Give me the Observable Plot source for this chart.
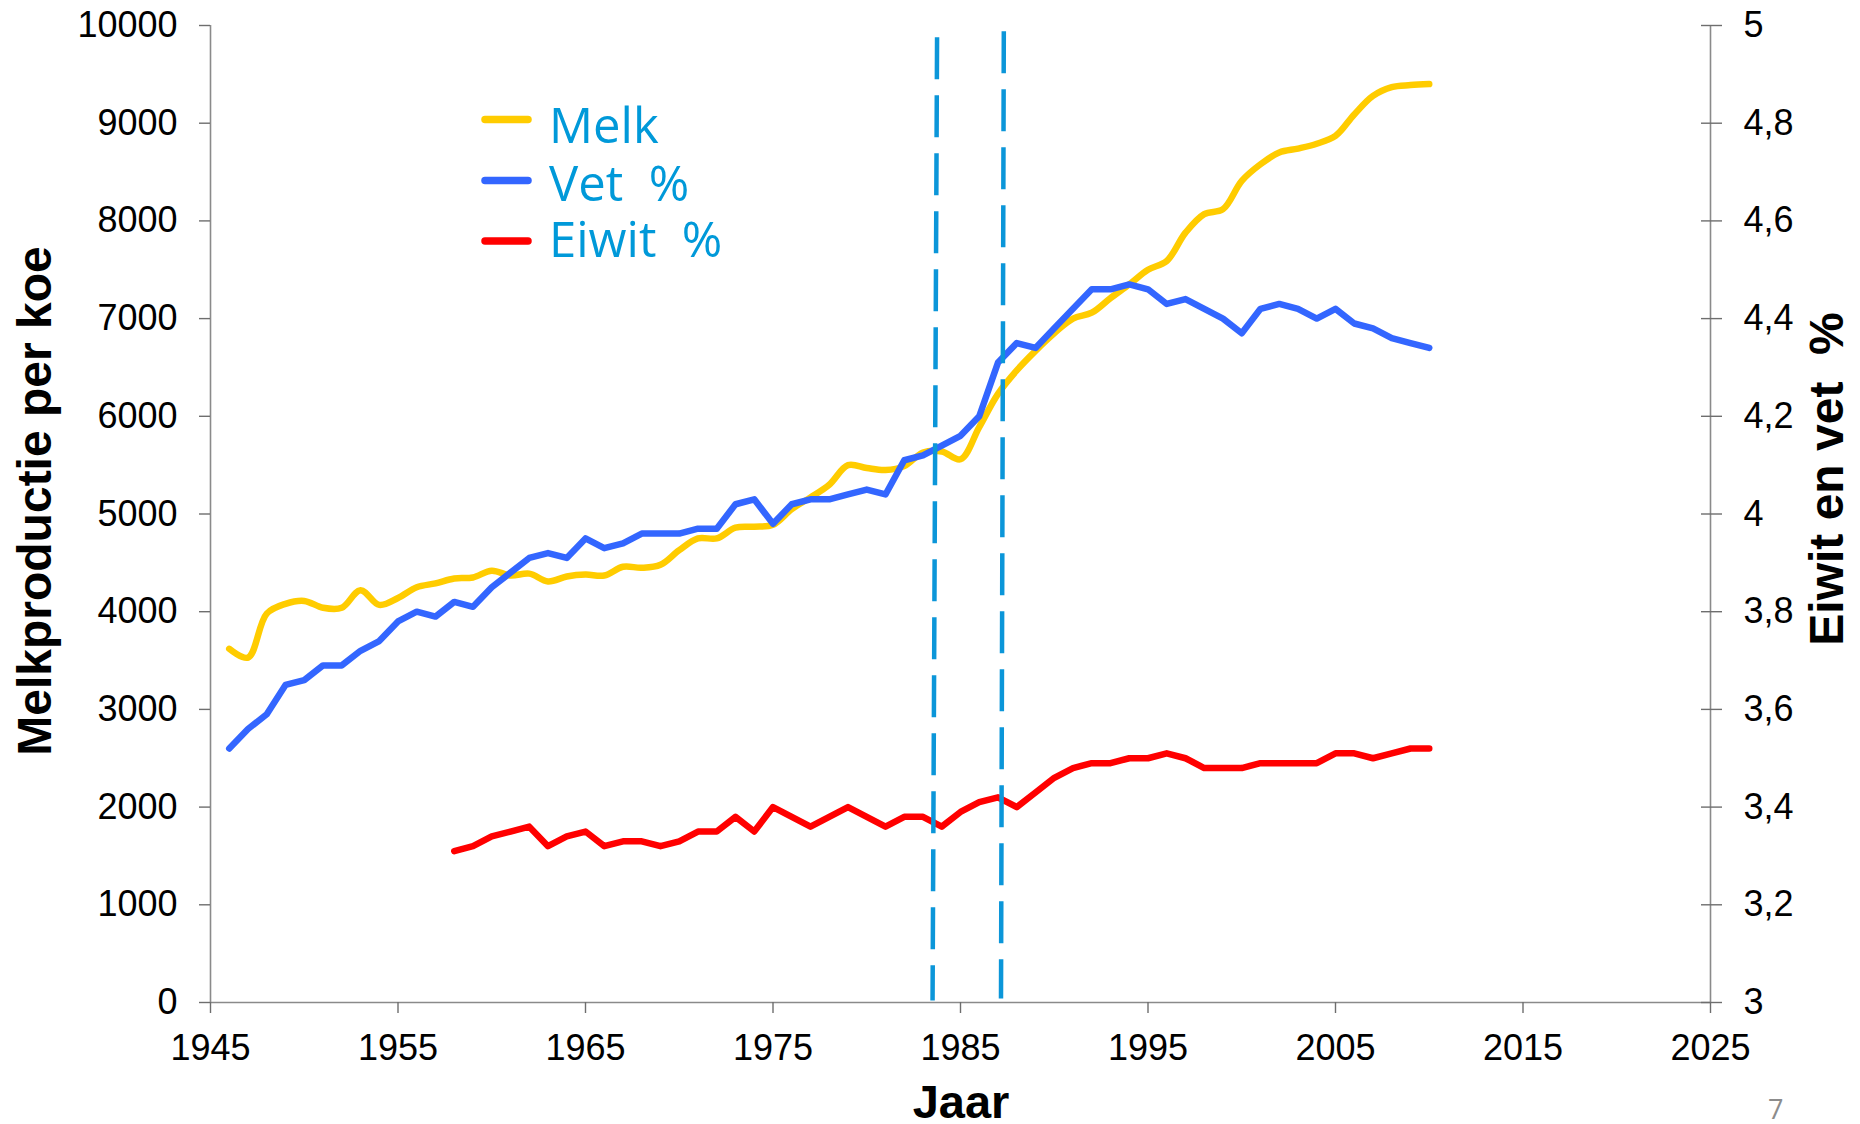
<!DOCTYPE html>
<html>
<head>
<meta charset="utf-8">
<script src="https://cdn.jsdelivr.net/npm/d3@7"></script>
<script src="https://cdn.jsdelivr.net/npm/@observablehq/plot@0.6"></script>
<style>
  html, body { margin: 0; padding: 0; background: #fff; }
  #chart { position: relative; width: 1860px; height: 1124px; overflow: hidden; }
</style>
</head>
<body>
<div id="chart"></div>
<script>
// ---------- DATA ----------
const melkYears = [1946,1947,1948,1949,1950,1951,1952,1953,1954,1955,1956,1957,1958,1959,1960,1961,1962,1963,1964,1965,1966,1967,1968,1969,1970,1971,1972,1973,1974,1975,1976,1977,1978,1979,1980,1981,1982,1983,1984,1985,1986,1987,1988,1989,1990,1991,1992,1993,1994,1995,1996,1997,1998,1999,2000,2001,2002,2003,2004,2005,2006,2007,2008,2009,2010];
const melk = [3620,3530,3980,4080,4110,4040,4040,4220,4070,4140,4250,4290,4340,4350,4420,4370,4390,4310,4360,4380,4370,4460,4450,4480,4630,4750,4750,4860,4870,4890,5050,5170,5300,5500,5470,5450,5490,5630,5640,5560,5890,6230,6470,6670,6850,7000,7060,7210,7350,7500,7590,7880,8070,8120,8410,8580,8700,8740,8790,8870,9090,9280,9370,9390,9400];

const vetYears = [1946,1947,1948,1949,1950,1951,1952,1953,1954,1955,1956,1957,1958,1959,1960,1961,1962,1963,1964,1965,1966,1967,1968,1969,1970,1971,1972,1973,1974,1975,1976,1977,1978,1979,1980,1981,1982,1983,1984,1985,1986,1987,1988,1989,1990,1991,1992,1993,1994,1995,1996,1997,1998,1999,2000,2001,2002,2003,2004,2005,2006,2007,2008,2009,2010];
const vet = [3.52,3.56,3.59,3.65,3.66,3.69,3.69,3.72,3.74,3.78,3.80,3.79,3.82,3.81,3.85,3.88,3.91,3.92,3.91,3.95,3.93,3.94,3.96,3.96,3.96,3.97,3.97,4.02,4.03,3.98,4.02,4.03,4.03,4.04,4.05,4.04,4.11,4.12,4.14,4.16,4.20,4.31,4.35,4.34,4.38,4.42,4.46,4.46,4.47,4.46,4.43,4.44,4.42,4.40,4.37,4.42,4.43,4.42,4.40,4.42,4.39,4.38,4.36,4.35,4.34];

const eiwitYears = [1958,1959,1960,1961,1962,1963,1964,1965,1966,1967,1968,1969,1970,1971,1972,1973,1974,1975,1976,1977,1978,1979,1980,1981,1982,1983,1984,1985,1986,1987,1988,1989,1990,1991,1992,1993,1994,1995,1996,1997,1998,1999,2000,2001,2002,2003,2004,2005,2006,2007,2008,2009,2010];
const eiwit = [3.31,3.32,3.34,3.35,3.36,3.32,3.34,3.35,3.32,3.33,3.33,3.32,3.33,3.35,3.35,3.38,3.35,3.40,3.38,3.36,3.38,3.40,3.38,3.36,3.38,3.38,3.36,3.39,3.41,3.42,3.40,3.43,3.46,3.48,3.49,3.49,3.50,3.50,3.51,3.50,3.48,3.48,3.48,3.49,3.49,3.49,3.49,3.51,3.51,3.50,3.51,3.52,3.52];

// dashed markers (milk quota period), hand drawn slightly tilted
const markerTopYear = [1983.75, 1987.31];
const markerBottomYear = [1983.51, 1987.16];
const markerTopValue = [9880, 9940];
const markerBottomValue = [20, 40];

const xDomain = [1945, 2025];
const xTicks = [1945, 1955, 1965, 1975, 1985, 1995, 2005, 2015, 2025];
const leftTicks = [0, 1000, 2000, 3000, 4000, 5000, 6000, 7000, 8000, 9000, 10000];
const rightTickLabels = ["3", "3,2", "3,4", "3,6", "3,8", "4", "4,2", "4,4", "4,6", "4,8", "5"];
const pctDomain = [3, 5];

const seriesNames = ["Melk", "Vet  %", "Eiwit  %"];
const seriesColors = ["#FFCC00", "#3366FF", "#FF0000"];

// ---------- BUILD ----------
const leftMax = 10000;
const pctToLeft = p => (p - pctDomain[0]) / (pctDomain[1] - pctDomain[0]) * leftMax;

const melkData = melkYears.map((y, i) => ({year: y, value: melk[i]}));
const vetData = vetYears.map((y, i) => ({year: y, value: pctToLeft(vet[i])}));
const eiwitData = eiwitYears.map((y, i) => ({year: y, value: pctToLeft(eiwit[i])}));
const markers = markerTopYear.map((t, i) => ({x1: t, y1: markerTopValue[i], x2: markerBottomYear[i], y2: markerBottomValue[i]}));

const axisGray = "#8a8a8a";
const tickGray = "#6e6e6e";
const dashBlue = "#0b96d9";
const lineW = 6.5;

const chart = Plot.plot({
  width: 1860,
  height: 1124,
  marginLeft: 210,
  marginRight: 150,
  marginTop: 25,
  marginBottom: 122,
  style: {fontFamily: "'Liberation Sans', Arial, sans-serif", fontSize: "36px", color: "#000", background: "#fff", overflow: "visible"},
  x: {domain: xDomain},
  y: {domain: [0, leftMax]},
  marks: [
    Plot.ruleX([xDomain[0], xDomain[1]], {stroke: axisGray, strokeWidth: 1.6}),
    Plot.ruleY([0], {stroke: axisGray, strokeWidth: 1.6}),
    Plot.axisX(xTicks, {anchor: "bottom", tickSize: 11, tickPadding: 21, tickFormat: d => String(d), label: null, stroke: tickGray, fill: "#000", strokeWidth: 1.4}),
    Plot.axisY(leftTicks, {anchor: "left", tickSize: 11, tickPadding: 22, tickFormat: d => String(d), label: null, stroke: tickGray, fill: "#000", strokeWidth: 1.4}),
    Plot.axisY(leftTicks, {anchor: "right", tickSize: 21, dx: -10, label: null, stroke: tickGray, fill: "none", strokeWidth: 1.4}),
    Plot.axisY(leftTicks, {anchor: "right", tickSize: 0, tickPadding: 33, label: null, tickFormat: d => rightTickLabels[leftTicks.indexOf(d)], stroke: "none", fill: "#000"}),
    Plot.line(melkData, {x: "year", y: "value", stroke: seriesColors[0], strokeWidth: lineW, curve: "catmull-rom", strokeLinecap: "round", strokeLinejoin: "round"}),
    Plot.line(vetData, {x: "year", y: "value", stroke: seriesColors[1], strokeWidth: lineW, strokeLinecap: "round", strokeLinejoin: "round"}),
    Plot.line(eiwitData, {x: "year", y: "value", stroke: seriesColors[2], strokeWidth: lineW, strokeLinecap: "round", strokeLinejoin: "round"}),
    Plot.link(markers, {x1: "x1", y1: "y1", x2: "x2", y2: "y2", stroke: dashBlue, strokeWidth: 4.5, strokeDasharray: "42,16", strokeLinecap: "butt"})
  ]
});

document.getElementById("chart").appendChild(chart);

// ---------- TEXT & LEGEND ----------
const svg = d3.select(chart);
const boldFont = "'Liberation Sans', Arial, sans-serif";

svg.append("text")
  .attr("transform", "translate(51,501) rotate(-90)")
  .attr("text-anchor", "middle")
  .style("font-family", boldFont).style("font-weight", "bold").style("font-size", "48px")
  .attr("fill", "#000")
  .text("Melkproductie per koe");

svg.append("text")
  .attr("transform", "translate(1843,479) rotate(-90)")
  .attr("text-anchor", "middle")
  .attr("xml:space", "preserve")
  .style("white-space", "pre")
  .style("font-family", boldFont).style("font-weight", "bold").style("font-size", "48px")
  .attr("fill", "#000")
  .text("Eiwit en vet  %");

svg.append("text")
  .attr("x", 961).attr("y", 1118)
  .attr("text-anchor", "middle")
  .style("font-family", boldFont).style("font-weight", "bold").style("font-size", "47px")
  .attr("fill", "#000")
  .text("Jaar");

svg.append("text")
  .attr("x", 1768).attr("y", 1119)
  .attr("text-anchor", "start")
  .style("font-family", "'Open Sans', sans-serif").style("font-size", "27px")
  .attr("fill", "#8c8c8c")
  .text("7");

const legendLineY = [119.6, 180.4, 241];
const legendTextY = [143, 200.7, 257];
const lg = svg.append("g").attr("text-anchor", "start");
seriesNames.forEach((name, i) => {
  lg.append("line")
    .attr("x1", 485).attr("x2", 528)
    .attr("y1", legendLineY[i]).attr("y2", legendLineY[i])
    .attr("stroke", seriesColors[i]).attr("stroke-width", 7.5).attr("stroke-linecap", "round");
  lg.append("text")
    .attr("x", 549).attr("y", legendTextY[i])
    .attr("text-anchor", "start")
    .attr("xml:space", "preserve")
    .style("white-space", "pre")
    .style("font-family", "'Open Sans', sans-serif").style("font-size", "49px")
    .attr("fill", "#0099d9")
    .text(name);
});
</script>
</body>
</html>
